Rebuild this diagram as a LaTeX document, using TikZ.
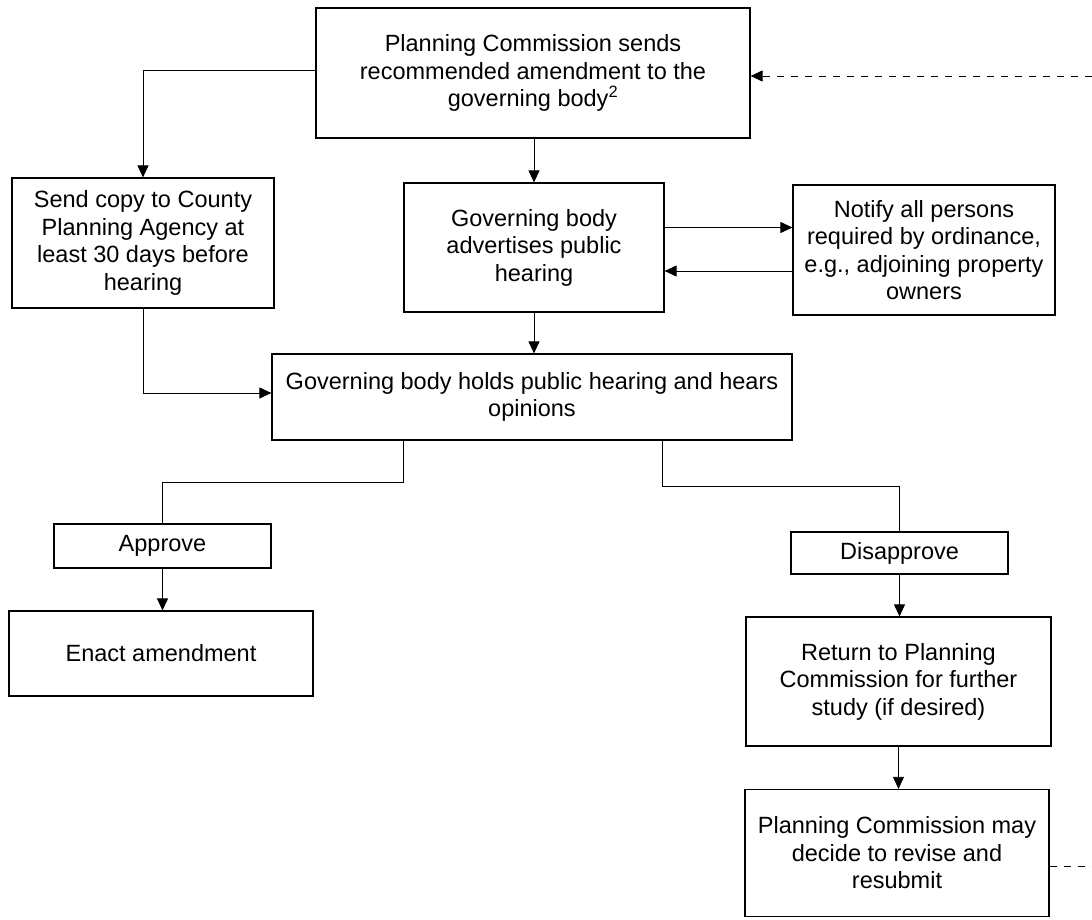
\documentclass[tikz,border=0pt]{standalone}
\usepackage{fontspec}
\setmainfont{Liberation Sans}
\usetikzlibrary{arrows.meta}
\begin{document}
\begin{tikzpicture}[x=1pt,y=-1pt,
  box/.style={draw=black,line width=1.2pt,rectangle,inner sep=0pt,align=center,
    font=\fontsize{23.5}{27.5}\selectfont,text=black},
  conn/.style={draw=black,line width=1pt},
  arr/.style={conn,-{Triangle[length=12pt,width=11pt]}},
  dashline/.style={conn,dash pattern=on 7pt off 7pt}]
\useasboundingbox[fill=white] (0,0) rectangle (1092,919);

\node[box,minimum width=434pt,minimum height=130pt] (top) at (533,73)
  {Planning Commission sends\\recommended amendment to the\\governing body\textsuperscript{2}};
\node[box,minimum width=262pt,minimum height=130pt] (left) at (143,243)
  {Send copy to County\\Planning Agency at\\least 30 days before\\hearing};
\node[box,minimum width=260pt,minimum height=129pt] (adv) at (534,247.5)
  {Governing body\\advertises public\\hearing};
\node[box,minimum width=262pt,minimum height=130pt] (notify) at (924,250)
  {Notify all persons\\required by ordinance,\\e.g., adjoining property\\owners};
\node[box,minimum width=520pt,minimum height=86pt] (hear) at (532,397)
  {Governing body holds public hearing and hears\\opinions};
\node[box,minimum width=217pt,minimum height=44pt] (approve) at (162.5,546) {Approve};
\node[box,minimum width=304pt,minimum height=85pt] (enact) at (161,653.5) {Enact amendment};
\node[box,minimum width=217pt,minimum height=42pt] (disapprove) at (899.5,553) {Disapprove};
\node[box,minimum width=305pt,minimum height=129pt] (return) at (898.5,681.5)
  {Return to Planning\\Commission for further\\study (if desired)};
\node[box,minimum width=304pt,minimum height=127pt] (revise) at (897,853)
  {Planning Commission may\\decide to revise and\\resubmit};

\coordinate (r1) at (1092,76);
\coordinate (r2) at (1092,866);

% connectors
\draw[arr] ([yshift=3pt]top.west) -| (left.north);
\draw[arr] (adv.north |- top.south) -- (adv.north);
\draw[arr] ([yshift=20pt]adv.east) -- ([yshift=20pt]adv.east -| notify.west);
\draw[arr] ([yshift=-21pt]notify.west) -- ([yshift=-21pt]notify.west -| adv.east);
\draw[arr] (adv.south) -- (adv.south |- hear.north);
\draw[arr] (left.south) |- ([yshift=4pt]hear.west);
\draw[conn] ([xshift=-129pt]hear.south) -- ++(0pt,-42pt) -| (approve.north);
\draw[conn] ([xshift=130pt]hear.south) -- ++(0pt,-46pt) -| (disapprove.north);
\draw[arr] (approve.south) -- (approve.south |- enact.north);
\draw[arr] (disapprove.south) -- (disapprove.south |- return.north);
\draw[arr,line width=0.7pt] (return.south) -- (return.south |- revise.north);
\draw[dashline] (revise.east |- r2) -- (r2);
\draw[dashline,-{Triangle[length=12pt,width=11pt]}] (r1) -- (r1 -| top.east);
\end{tikzpicture}
\end{document}
